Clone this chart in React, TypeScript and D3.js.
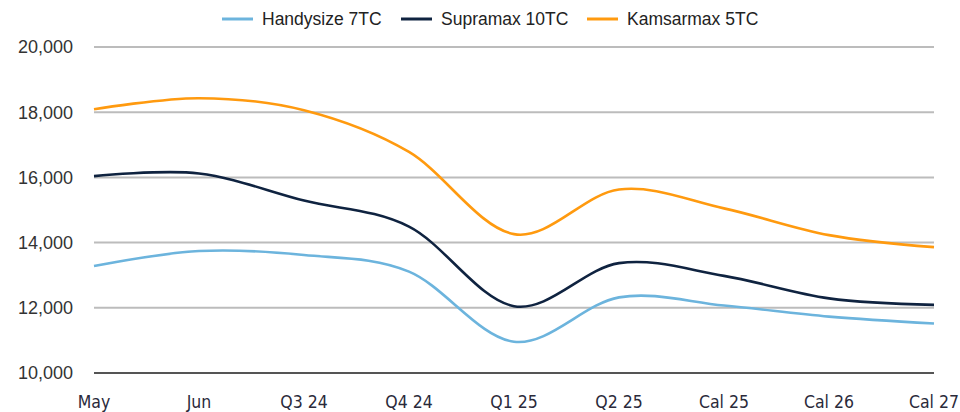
import React, {useEffect, useRef} from 'react';
import * as d3 from 'd3';

const categories = ['May', 'Jun', 'Q3 24', 'Q4 24', 'Q1 25', 'Q2 25', 'Cal 25', 'Cal 26', 'Cal 27'];
const handysize = [13280, 13740, 13620, 13110, 10960, 12320, 12070, 11730, 11520];
const supramax = [16040, 16120, 15290, 14490, 12050, 13370, 12980, 12290, 12090];
const kamsarmax = [18090, 18430, 18060, 16780, 14260, 15630, 15050, 14230, 13860];
const yTicks = [10000, 12000, 14000, 16000, 18000, 20000];

const seriesNames = ['Handysize 7TC', 'Supramax 10TC', 'Kamsarmax 5TC'];
const seriesColors = ['#6cb4dd', '#0f2340', '#ff9a0f'];
const seriesData = [handysize, supramax, kamsarmax];

export default function App() {
  const svgRef = useRef<SVGSVGElement>(null);

  useEffect(() => {
    const svg = d3.select(svgRef.current);
    svg.selectAll('*').remove();

    const x = d3.scalePoint<string>().domain(categories).range([94, 934]);
    const y = d3.scaleLinear().domain([10000, 20000]).range([373, 47]);

    // gridlines + y labels
    const grid = svg.append('g');
    grid.selectAll('line')
      .data(yTicks)
      .join('line')
      .attr('x1', 94).attr('x2', 934)
      .attr('y1', d => y(d)).attr('y2', d => y(d))
      .attr('stroke', d => d === 10000 ? '#555' : '#bcbcbc')
      .attr('stroke-width', 2);
    grid.selectAll('text')
      .data(yTicks)
      .join('text')
      .attr('x', 73)
      .attr('y', d => y(d))
      .attr('dy', '0.35em')
      .attr('text-anchor', 'end')
      .attr('font-family', 'Liberation Sans, Arial, sans-serif')
      .attr('font-size', 18)
      .attr('fill', '#333')
      .text(d => d3.format(',')(d));

    // x labels
    svg.append('g').selectAll('text')
      .data(categories)
      .join('text')
      .attr('x', d => x(d)!)
      .attr('y', 408)
      .attr('text-anchor', 'middle')
      .attr('font-family', 'DejaVu Sans Condensed, DejaVu Sans, sans-serif')
      .attr('font-stretch', 'condensed')
      .attr('font-size', 17.5)
      .attr('fill', '#2a2a3a')
      .text(d => d);

    const line = d3.line<number>()
      .x((_, i) => x(categories[i])!)
      .y(d => y(d))
      .curve(d3.curveCardinal.tension(0));

    svg.append('g').selectAll('path')
      .data(seriesData)
      .join('path')
      .attr('d', d => line(d))
      .attr('fill', 'none')
      .attr('stroke', (_, i) => seriesColors[i])
      .attr('stroke-width', 2.6);

    // legend
    const legendX = [222, 401, 587];
    const leg = svg.append('g').selectAll('g')
      .data(seriesNames)
      .join('g')
      .attr('transform', (_, i) => `translate(${legendX[i]},19)`);
    leg.append('line')
      .attr('x1', 0).attr('x2', 31)
      .attr('stroke', (_, i) => seriesColors[i])
      .attr('stroke-width', 3);
    leg.append('text')
      .attr('x', 40)
      .attr('dy', '0.35em')
      .attr('font-family', 'Liberation Sans, Arial, sans-serif')
      .attr('font-size', 17.5)
      .attr('fill', '#222')
      .text(d => d);
  }, []);

  return (
    <svg ref={svgRef} width={960} height={412}
      style={{position: 'absolute', left: 0, top: 0, background: '#fff'}} />
  );
}
